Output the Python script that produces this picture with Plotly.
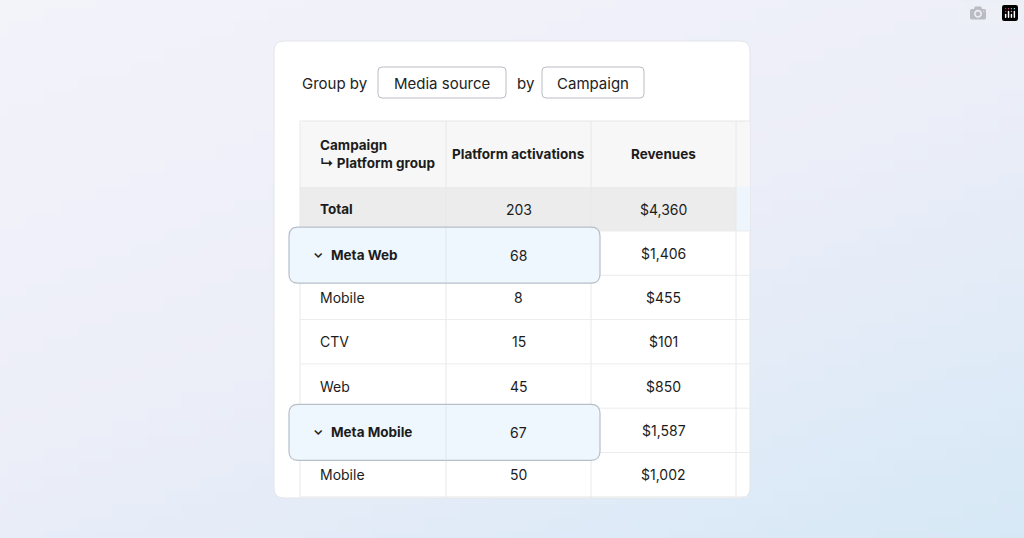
import plotly.graph_objects as go
import numpy as np

# data
row_labels = ["Meta Web", "Mobile", "CTV", "Web", "Meta Mobile", "Mobile"]
row_is_group = [True, False, False, False, True, False]
activations = [68, 8, 15, 45, 67, 50]
revenues = [1406, 455, 101, 850, 1587, 1002]
total_label = "Total"
total_activations = 203
total_revenue = 4360
headers = ["Campaign<br>↳ Platform group", "Platform activations", "Revenues"]

W, H = 1024, 538
FONT = "Inter"
col_edges = [300, 446, 591, 736]
row_top = 231
row_h = 44.3


def rrect(x0, y0, x1, y1, r):
    return (f"M{x0+r},{y0} L{x1-r},{y0} Q{x1},{y0} {x1},{y0+r} L{x1},{y1-r} "
            f"Q{x1},{y1} {x1-r},{y1} L{x0+r},{y1} Q{x0},{y1} {x0},{y1-r} "
            f"L{x0},{y0+r} Q{x0},{y0} {x0+r},{y0} Z")


fig = go.Figure()

# soft background gradient
gx = np.linspace(0, 1, 60)
gy = np.linspace(0, 1, 40)
X, Y = np.meshgrid(gx, gy)
Z = 0.5 * X + 0.7 * Y
fig.add_trace(go.Heatmap(
    x=gx * W, y=gy * H, z=Z, showscale=False, hoverinfo="skip",
    colorscale=[[0, "#f3f3fa"], [0.5, "#eceef8"], [1, "#d6e8f6"]]))

shapes = []
ann = []

# card
shapes.append(dict(type="path", path=rrect(274, 41, 750, 498, 10),
                   fillcolor="white", line=dict(color="#e3e5ea", width=1)))

# group by controls
ann.append(dict(x=300, y=83, text="Group by", xanchor="left", font=dict(size=15, color="#222")))
shapes.append(dict(type="path", path=rrect(378, 67, 506, 98, 4), fillcolor="white",
                   line=dict(color="#b8bcc4", width=1)))
ann.append(dict(x=442, y=83, text="Media source", font=dict(size=15, color="#222")))
ann.append(dict(x=515, y=83, text="by", xanchor="left", font=dict(size=15, color="#222")))
shapes.append(dict(type="path", path=rrect(542, 67, 644, 98, 4), fillcolor="white",
                   line=dict(color="#b8bcc4", width=1)))
ann.append(dict(x=593, y=83, text="Campaign", font=dict(size=15, color="#222")))

# header and total backgrounds
shapes.append(dict(type="path", path=rrect(300, 121, 750, 231, 6), fillcolor="#f7f7f7", line_width=0))
shapes.append(dict(type="rect", x0=300, x1=736, y0=187, y1=231, fillcolor="#ececec", line_width=0))
shapes.append(dict(type="rect", x0=736, x1=750, y0=187, y1=231, fillcolor="#eef5fd", line_width=0))

n = len(row_labels)
bottom = 498
# grid lines
for xe in col_edges:
    shapes.append(dict(type="line", x0=xe, x1=xe, y0=121, y1=bottom, line=dict(color="#e8e8e8", width=1)))
for i in range(n + 1):
    yy = row_top + i * row_h
    shapes.append(dict(type="line", x0=300, x1=750, y0=yy, y1=yy, line=dict(color="#ececec", width=1)))
shapes.append(dict(type="line", x0=300, x1=750, y0=121, y1=121, line=dict(color="#e6e6e6", width=1)))

centers = [(col_edges[i] + col_edges[i + 1]) / 2 for i in range(3)]

# headers
ann.append(dict(x=318, y=154, text="<b>Campaign</b><br><b>↳ Platform group</b>", xanchor="left",
                align="left", font=dict(size=13.5, color="#1c1c1c")))
ann.append(dict(x=centers[1], y=154, text="<b>" + headers[1] + "</b>", font=dict(size=13.5, color="#1c1c1c")))
ann.append(dict(x=centers[2], y=154, text="<b>" + headers[2] + "</b>", font=dict(size=13.5, color="#1c1c1c")))

# total row
ann.append(dict(x=318, y=209, text="<b>" + total_label + "</b>", xanchor="left", font=dict(size=13.5, color="#1c1c1c")))
ann.append(dict(x=centers[1], y=209, text=str(total_activations), font=dict(size=14, color="#1c1c1c")))
ann.append(dict(x=centers[2], y=209, text=f"${total_revenue:,}", font=dict(size=14, color="#1c1c1c")))

for i in range(n):
    cy = row_top + (i + 0.5) * row_h
    if row_is_group[i]:
        shapes.append(dict(type="path", path=rrect(289, cy - 26, 600, cy + 30, 9),
                           fillcolor="#eef6fe", line=dict(color="#b7bfc9", width=1.2)))
        shapes.append(dict(type="line", x0=446, x1=446, y0=cy - 25, y1=cy + 29,
                           line=dict(color="#dfe6ee", width=1)))
        ann.append(dict(x=311, y=cy + 2, text="<b>⌄</b>", xanchor="left", yanchor="bottom",
                        yshift=-8, font=dict(size=13, color="#1c1c1c")))
        ann.append(dict(x=329, y=cy + 2, text="<b>" + row_labels[i] + "</b>", xanchor="left",
                        font=dict(size=13.5, color="#1c1c1c")))
        ann.append(dict(x=centers[1], y=cy + 2, text=str(activations[i]), font=dict(size=14, color="#1c1c1c")))
    else:
        ann.append(dict(x=318, y=cy, text=row_labels[i], xanchor="left", font=dict(size=14, color="#1c1c1c")))
        ann.append(dict(x=centers[1], y=cy, text=str(activations[i]), font=dict(size=14, color="#1c1c1c")))
    ann.append(dict(x=centers[2], y=cy, text=f"${revenues[i]:,}", font=dict(size=14, color="#1c1c1c")))

for a in ann:
    a.update(xref="x", yref="y", showarrow=False)
    a.setdefault("font", {})
    a["font"]["family"] = FONT

fig.update_layout(
    width=W, height=H, margin=dict(l=0, r=0, t=0, b=0),
    xaxis=dict(range=[0, W], visible=False, fixedrange=True),
    yaxis=dict(range=[H, 0], visible=False, fixedrange=True),
    plot_bgcolor="#f0f1f8", paper_bgcolor="#f0f1f8",
    shapes=shapes, annotations=ann, showlegend=False,
)

fig.write_html("out.html", post_script="document.body.style.margin='0';")
